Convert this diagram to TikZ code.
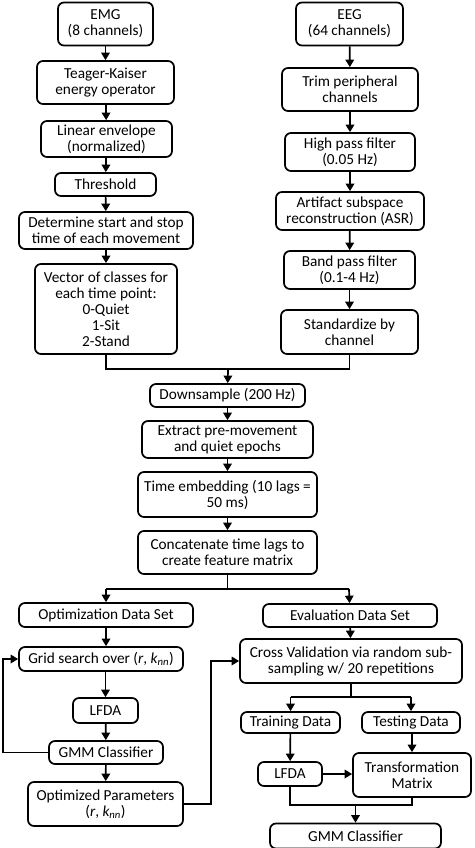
\documentclass[tikz,border=0pt]{standalone}
\usepackage{fontspec}
\setmainfont{Carlito}
\usetikzlibrary{arrows.meta}
\tikzset{
  box/.style={draw=black, line width=1.7pt, rounded corners=6pt, align=center, inner sep=0pt,
    font=\fontsize{15.3}{16}\selectfont, fill=white},
  con/.style={line width=1.7pt, -{Triangle[length=7.5pt,width=8.5pt]}},
  ln/.style={line width=1.7pt},
}
\newcommand{\bx}[6]{\node[box, minimum width=#4pt, minimum height=#5pt] (#1) at (#2,#3) {#6};}
\begin{document}
\begin{tikzpicture}[x=1pt,y=-1pt]
\useasboundingbox (0,0) rectangle (474,848);
% EMG column
\bx{emg}{105.5}{24}{95}{43}{EMG\\(8 channels)}
\bx{tk}{105.5}{82.5}{137}{43}{Teager-Kaiser\\energy operator}
\bx{le}{106.5}{139}{131}{36}{Linear envelope\\(normalized)}
\bx{thr}{105.5}{184.5}{101}{23}{Threshold}
\bx{det}{106}{230.5}{174}{37}{Determine start and stop\\time of each movement}
\bx{vec}{106}{309}{142}{90}{Vector of classes for\\each time point:\\0-Quiet\\1-Sit\\2-Stand}
% EEG column
\bx{eeg}{349.5}{24}{107}{43}{EEG\\(64 channels)}
\bx{trim}{350}{89.5}{136}{43}{Trim peripheral\\channels}
\bx{hp}{350}{152}{130}{38}{High pass filter\\(0.05 Hz)}
\bx{asr}{350}{211}{148}{38}{Artifact subspace\\reconstruction (ASR)}
\bx{bp}{349.5}{270}{131}{38}{Band pass filter\\(0.1-4 Hz)}
\bx{std}{349.5}{332}{137}{44}{Standardize by\\channel}
% middle
\bx{ds}{227.5}{395.5}{155}{23}{Downsample (200 Hz)}
\bx{ext}{227.5}{439.5}{171}{37}{Extract pre-movement\\and quiet epochs}
\bx{te}{227.5}{494.5}{179}{45}{Time embedding (10 lags =\\50 ms)}
\bx{cat}{227.5}{552.5}{179}{43}{Concatenate time lags to\\create feature matrix}
% optimization
\bx{ods}{106}{615}{174}{24}{Optimization Data Set}
\bx{grid}{101}{659}{164}{24}{Grid search over ($\mathit{r}$, $\mathit{k}_{\mathit{nn}}$)}
\bx{lfda1}{105.5}{710.5}{65}{25}{LFDA}
\bx{gmm1}{106}{752.5}{114}{23}{GMM Classifier}
\bx{opt}{105.5}{804}{155}{44}{Optimized Parameters\\($\mathit{r}$, $\mathit{k}_{\mathit{nn}}$)}
% evaluation
\bx{eds}{350}{615.5}{174}{23}{Evaluation Data Set}
\bx{cv}{351}{661}{222}{44}{Cross Validation via random sub-\\sampling w/ 20 repetitions}
\bx{train}{290.5}{722.5}{99}{21}{Training Data}
\bx{test}{411}{722.5}{98}{21}{Testing Data}
\bx{lfda2}{290}{774}{64}{24}{LFDA}
\bx{tm}{412}{775}{118}{44}{Transformation\\Matrix}
\bx{gmm2}{355.5}{836}{171}{25}{GMM Classifier}
% coordinates
\coordinate (m1) at (106,369);
\coordinate (m2) at (349.5,369);
\coordinate (mj) at (228,369);
\coordinate (s1) at (106,589);
\coordinate (s2) at (349,589);
\coordinate (sj) at (227.5,589);
\coordinate (l1) at (3,752.5);
\coordinate (l2) at (3,659);
\coordinate (o1) at (211,804);
\coordinate (o2) at (211,661);
\coordinate (c1) at (290.5,697);
\coordinate (c2) at (411,697);
\coordinate (cj) at (351,697);
\coordinate (g1) at (290,805);
\coordinate (g2) at (412,805);
\coordinate (gj) at (355.5,805);
% EMG arrows
\draw[con] (emg) -- (tk);
\draw[con] (tk) -- (le);
\draw[con] (le) -- (thr);
\draw[con] (thr) -- (det);
\draw[con] (det) -- (vec);
% EEG arrows
\draw[con] (eeg) -- (trim);
\draw[con] (trim) -- (hp);
\draw[con] (hp) -- (asr);
\draw[con] (asr) -- (bp);
\draw[con] (bp) -- (std);
% merge
\draw[ln] (vec.south) -- (m1) -- (m2) -- (std.south);
\draw[con] (mj) -- (ds);
\draw[con] (ds) -- (ext);
\draw[con] (ext) -- (te);
\draw[con] (te) -- (cat);
% split
\draw[ln] (cat.south) -- (sj);
\draw[ln] (s1) -- (s2);
\draw[con] (s1) -- (ods);
\draw[con] (s2) -- (eds);
% optimization
\draw[con] (ods.south) -- (ods.south |- grid.north);
\draw[con] (grid.south -| lfda1.north) -- (lfda1);
\draw[con] (lfda1) -- (gmm1);
\draw[con] (gmm1) -- (opt);
\draw[con] (gmm1.west) -- (l1) -- (l2) -- (grid.west);
\draw[con] (opt.east) -- (o1) -- (o2) -- (cv.west);
% evaluation
\draw[con] (eds) -- (cv);
\draw[ln] (cv.south) -- (cj);
\draw[ln] (c1) -- (c2);
\draw[con] (c1) -- (train);
\draw[con] (c2) -- (test);
\draw[con] (train) -- (lfda2);
\draw[con] (test.south -| tm.north) -- (tm);
\draw[con] (lfda2) -- (tm.west |- lfda2);
\draw[ln] (lfda2.south) -- (g1) -- (g2) -- (tm.south);
\draw[con] (gj) -- (gmm2);
\end{tikzpicture}
\end{document}
